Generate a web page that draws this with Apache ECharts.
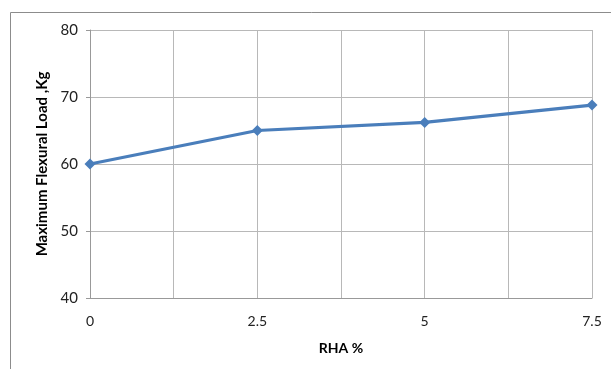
<!DOCTYPE html>
<html><head><meta charset="utf-8">
<script src="https://cdn.jsdelivr.net/npm/echarts@6/dist/echarts.min.js"></script>
<style>html,body{margin:0;padding:0;background:#fff}#c{width:611px;height:369px}</style>
</head><body><div id="c"></div>
<script>
const rhaPercent = [0, 2.5, 5, 7.5];
const maxFlexuralLoad = [60, 65, 66.2, 68.8];
const xTickLabels = ['0', '2.5', '5', '7.5'];
const yTickLabels = [40, 50, 60, 70, 80];

const chart = echarts.init(document.getElementById('c'));
const font = 'Lato, "Open Sans", sans-serif';
chart.setOption({
  animation: false,
  graphic: [{
    type: 'rect', shape: {x: 10.5, y: 12.5, width: 700, height: 400},
    style: {fill: 'none', stroke: '#8c8c8c', lineWidth: 1}, silent: true
  }],
  grid: {left: 90, right: 19, top: 30, bottom: 71, containLabel: false},
  xAxis: {
    type: 'value', min: 0, max: 7.5, interval: 1.25,
    name: 'RHA %', nameLocation: 'middle', nameGap: 43,
    nameTextStyle: {fontFamily: font, fontWeight: 'bold', fontSize: 14, color: '#000'},
    axisLine: {show: true, lineStyle: {color: '#999', width: 1}},
    axisTick: {show: false},
    splitLine: {show: true, lineStyle: {color: '#b8b8b8', width: 1}},
    axisLabel: {
      fontFamily: font, fontSize: 14, color: '#222', margin: 16,
      formatter: function (v) {
        const i = rhaPercent.indexOf(v);
        return i >= 0 ? xTickLabels[i] : '';
      }
    }
  },
  yAxis: {
    type: 'value', min: yTickLabels[0], max: yTickLabels[yTickLabels.length - 1], interval: 10,
    name: 'Maximum Flexural Load ,Kg', nameLocation: 'middle', nameGap: 38, nameRotate: 90,
    nameTextStyle: {fontFamily: font, fontWeight: 'bold', fontSize: 15, color: '#000'},
    axisLine: {show: true, lineStyle: {color: '#999', width: 1}},
    axisTick: {show: true, length: 4, inside: false, lineStyle: {color: '#999'}},
    splitLine: {show: true, lineStyle: {color: '#b8b8b8', width: 1}},
    axisLabel: {fontFamily: font, fontSize: 15, color: '#222', margin: 12}
  },
  series: [{
    type: 'line',
    data: rhaPercent.map((x, i) => [x, maxFlexuralLoad[i]]),
    symbol: 'diamond', symbolSize: 11,
    lineStyle: {color: '#4a7ebb', width: 3.2},
    itemStyle: {color: '#4a7ebb'}
  }]
});
</script></body></html>
